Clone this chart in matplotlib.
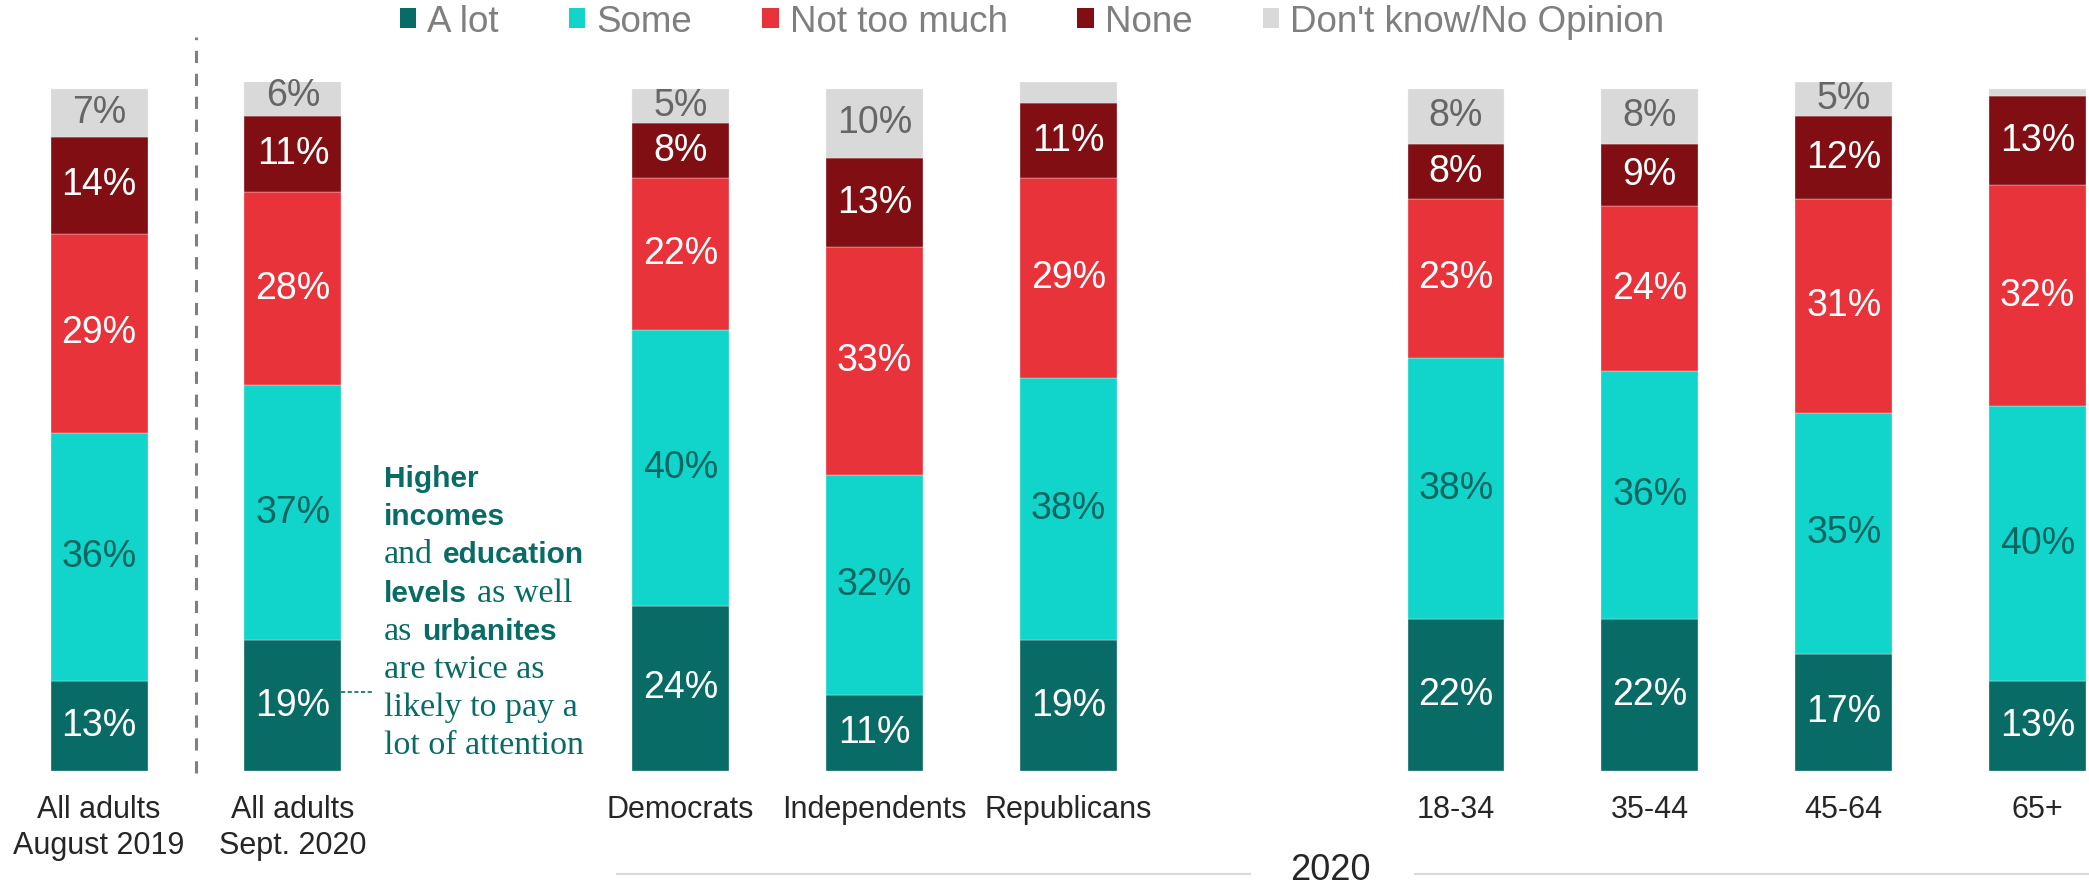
import matplotlib
matplotlib.use("Agg")
import matplotlib.pyplot as plt
from matplotlib.patches import Patch
from matplotlib.lines import Line2D

# attention paid, share of respondents per group
groups = ["All adults\nAugust 2019", "All adults\nSept. 2020", "Democrats", "Independents",
          "Republicans", "18-34", "35-44", "45-64", "65+"]
positions = [0, 1, 3, 4, 5, 7, 8, 9, 10]
a_lot = [13, 19, 24, 11, 19, 22, 22, 17, 13]
some = [36, 37, 40, 32, 38, 38, 36, 35, 40]
not_much = [29, 28, 22, 33, 29, 23, 24, 31, 32]
none = [14, 11, 8, 13, 11, 8, 9, 12, 13]
dont_know = [7, 6, 5, 10, 3, 8, 8, 5, 1]

series = [
    ("A lot", a_lot, "#096B66", "white"),
    ("Some", some, "#11D5CB", "#0B6661"),
    ("Not too much", not_much, "#E8333B", "white"),
    ("None", none, "#800E12", "white"),
    ("Don't know/No Opinion", dont_know, "#D9D9D9", "#666666"),
]

W, H = 2089, 886
plt.rcParams["font.family"] = ["Liberation Sans", "DejaVu Sans"]

fig = plt.figure(figsize=(W / 100, H / 100), dpi=100)
ax = fig.add_axes([50.6 / W, 115 / H, (2086 - 50.6) / W, 689 / H])

bottom = [0] * len(positions)
for name, vals, color, txt_color in series:
    ax.bar(positions, vals, width=0.5, bottom=bottom, color=color,
           edgecolor="#F2F2F2", linewidth=0.25)
    for x, b, v in zip(positions, bottom, vals):
        if v >= 4:
            ax.text(x, b + v / 2, f"{v}%", ha="center", va="center",
                    fontsize=27, color=txt_color)
    bottom = [b + v for b, v in zip(bottom, vals)]

ax.set_xlim(-0.25, 10.25)
ax.set_ylim(0, 100)
for s in ax.spines.values():
    s.set_visible(False)
ax.set_yticks([])
ax.set_xticks(positions)
ax.set_xticklabels(groups, fontsize=22, color="#262626", linespacing=1.28)
ax.tick_params(axis="x", length=0, pad=17)

# separator between 2019 and 2020
ax.plot([0.5, 0.5], [-0.3, 106.5], ls=(0, (4, 3.5)), color="#7F7F7F",
        lw=2.2, clip_on=False)

# leader from the 2020 "a lot" bar to the note
ax.plot([1.25, 1.415], [11.5, 11.5], ls=(0, (2.5, 1.5)), color="#096B66",
        lw=1.2, clip_on=False)

# note text, bold sans mixed with serif
note = [
    [("Higher", "b")],
    [("incomes", "b")],
    [("and", "s"), ("education", "b")],
    [("levels", "b"), ("as well", "s")],
    [("as", "s"), ("urbanites", "b")],
    [("are twice as", "s")],
    [("likely to pay a", "s")],
    [("lot of attention", "s")],
]
renderer = fig.canvas.get_renderer()
note_color = "#096B66"
for i, runs in enumerate(note):
    x_px = 384
    y_px = 487 + 38.2 * i
    for j, (word, kind) in enumerate(runs):
        if j > 0:
            x_px += 10
        if kind == "b":
            t = fig.text(x_px / W, 1 - y_px / H, word, fontsize=21.5, fontweight="bold",
                         color=note_color, va="baseline", ha="left")
        else:
            t = fig.text(x_px / W, 1 - y_px / H, word, fontsize=24.5,
                         family=["Liberation Serif", "DejaVu Serif"],
                         color=note_color, va="baseline", ha="left")
        x_px += t.get_window_extent(renderer).width

# group label for the 2020 breakdowns
fig.text(1330 / W, 1 - 870 / H, "2020", fontsize=26, color="#262626",
         ha="center", va="center")
for x0, x1 in [(617, 1250), (1415, 2089)]:
    fig.add_artist(Line2D([x0 / W, x1 / W], [1 - 874 / H, 1 - 874 / H],
                          color="#D9D9D9", lw=1.5))

handles = [Patch(facecolor=c, edgecolor="none", label=n) for n, _, c, _ in series]
fig.legend(handles=handles, loc="center", bbox_to_anchor=(1032 / W, 1 - 22 / H),
           ncol=5, frameon=False, fontsize=26.5, labelcolor="#7F7F7F",
           handlelength=0.45, handleheight=0.45, handletextpad=0.3,
           columnspacing=1.9, borderpad=0, borderaxespad=0)

fig.savefig("out.png", dpi=100)
